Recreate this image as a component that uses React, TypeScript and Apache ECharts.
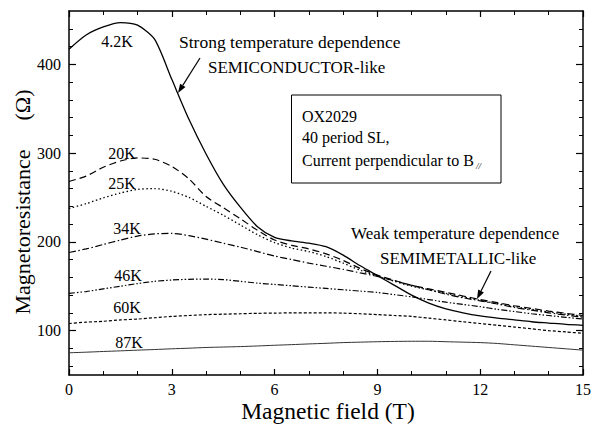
import React, { useEffect, useRef } from "react";
import * as echarts from "echarts";

const fieldT = [0, 0.5, 1, 1.5, 2, 2.5, 3, 3.5, 4, 4.5, 5, 5.5, 6, 6.5, 7, 7.5, 8, 8.5, 9, 9.5, 10, 10.5, 11, 11.5, 12, 12.5, 13, 13.5, 14, 14.5, 15];
const r4K = [417, 433, 442, 447, 444, 428, 383, 338, 299, 265, 239, 217, 205, 201, 198.5, 194.5, 185, 173, 162, 151, 140, 131, 124.5, 120, 116.5, 114, 112, 110, 108.5, 107, 106];
const r20K = [268, 274, 284, 291, 294.5, 293, 285, 271, 251, 238.5, 226, 213, 202, 196, 192, 186.5, 179, 170, 162.5, 156.5, 151, 147, 143, 139, 135, 131.5, 128, 125, 122, 119.5, 117];
const r25K = [237.6, 243, 249.5, 255, 259, 260, 257, 250, 240, 230, 219, 208, 199, 193, 189, 183.5, 176, 168, 161.5, 155.5, 150, 146, 142, 138, 134, 130.5, 127, 124, 121, 118.5, 116];
const r34K = [188, 192, 197, 202, 206.5, 209, 209.5, 207, 203, 198.5, 194, 189, 184, 180, 176, 172.5, 169, 165, 161, 156, 151, 146, 141, 137, 133.5, 130, 126, 123, 120, 117.5, 115];
const r46K = [142, 144, 147, 150, 153, 155.5, 157, 157.8, 158, 157.5, 155.5, 153.5, 152, 150.5, 149, 147.5, 146, 144.5, 143, 140.5, 138, 135, 132, 129.5, 127, 124, 121.5, 119, 117, 115, 113];
const r60K = [108, 109.5, 110.5, 112, 113, 114.5, 116, 117, 118, 118.5, 119, 119.5, 119.7, 120, 120, 120, 119.7, 119, 118, 117, 116, 114, 112, 110, 108, 106, 104, 102, 100, 98.5, 97];
const r87K = [75, 75.7, 76.5, 77.2, 78, 78.7, 79.5, 80.2, 81, 81.5, 82, 82.7, 83.5, 84.2, 85, 85.7, 86.5, 87, 87.5, 87.8, 88, 88, 87.5, 87, 86.5, 85.5, 84, 82.5, 81, 79.5, 78];

const seriesNames = ["4.2K", "20K", "25K", "34K", "46K", "60K", "87K"];
const seriesValues = [r4K, r20K, r25K, r34K, r46K, r60K, r87K];
const yLabelTicks = [100, 200, 300, 400];
const yMinorTicks = [60, 80, 120, 140, 160, 180, 220, 240, 260, 280, 320, 340, 360, 380, 420, 440];

const FONT = "Liberation Serif";

const dashStyles: any[] = [
  { type: "solid", width: 1.3, color: "#000" },
  { type: [7, 4], width: 1.2, color: "#000" },
  { type: [1.5, 2.5], width: 1.3, color: "#000" },
  { type: [7, 2.5, 1.5, 2.5], width: 1.2, color: "#000" },
  { type: [6, 2, 1.5, 2, 1.5, 2], width: 1.2, color: "#000" },
  { type: [3, 2], width: 1.2, color: "#000" },
  { type: "solid", width: 1.0, color: "#333" },
];

const labelPos: [number, number][] = [
  [117, 41], [122, 153], [122, 183], [127, 228], [128, 275], [127, 307], [129, 342],
];

function txt(x: number, y: number, text: string, size: number, align = "left", extra: any = {}) {
  const { italic, ...rest } = extra;
  return {
    type: "text",
    x,
    y,
    ...rest,
    style: { text, fontFamily: FONT, fontSize: size, fontStyle: italic ? "italic" : "normal", fill: "#000", align, verticalAlign: "middle" },
  };
}

function arrow(x1: number, y1: number, x2: number, y2: number): any[] {
  const ang = Math.atan2(y2 - y1, x2 - x1);
  const len = 9;
  const w = 3.2;
  const bx = x2 - len * Math.cos(ang);
  const by = y2 - len * Math.sin(ang);
  const px = -Math.sin(ang) * w;
  const py = Math.cos(ang) * w;
  return [
    { type: "line", shape: { x1, y1, x2: bx, y2: by }, style: { stroke: "#000", lineWidth: 1.2 } },
    {
      type: "polygon",
      shape: { points: [[x2, y2], [bx + px, by + py], [bx - px, by - py]] },
      style: { fill: "#000" },
    },
  ];
}

export default function App() {
  const ref = useRef<HTMLDivElement>(null);
  useEffect(() => {
    if (!ref.current) return;
    const chart = echarts.init(ref.current, null, { renderer: "svg" });
    const axisLine = { show: true, lineStyle: { color: "#000", width: 1.5 } };
    const yBase = { type: "value", min: 50, max: 460, splitLine: { show: false } };
    const graphic: any[] = [
      ...seriesNames.map((n, i) => txt(labelPos[i][0], labelPos[i][1], n, 16, "center")),
      txt(179, 42, "Strong temperature dependence", 17.5),
      txt(208, 67, "SEMICONDUCTOR-like", 17),
      ...arrow(200, 58, 178, 93),
      txt(351, 233, "Weak temperature dependence", 17),
      txt(380, 258, "SEMIMETALLIC-like", 17),
      ...arrow(491, 271, 477, 299),
      { type: "rect", shape: { x: 291.5, y: 95, width: 209.5, height: 88 }, style: { fill: "#fff", stroke: "#000", lineWidth: 1 }, z: 10 },
      txt(302, 116, "OX2029", 16, "left", { z: 11 }),
      txt(302, 137, "40 period SL,", 16, "left", { z: 11 }),
      txt(302, 160, "Current perpendicular to B", 16, "left", { z: 11 }),
      txt(476, 166, "//", 9, "left", { z: 11, italic: true }),
      txt(22, 232, "Magnetoresistance", 22, "center", { rotation: Math.PI / 2 }),
      txt(22, 105, "(Ω)", 22, "center", { rotation: Math.PI / 2 }),
      txt(328, 410.5, "Magnetic field (T)", 23.5, "center"),
    ];
    chart.setOption({
      animation: false,
      backgroundColor: "#fff",
      textStyle: { fontFamily: FONT },
      grid: { left: 69, right: 8, top: 11, bottom: 49, containLabel: false },
      xAxis: [
        {
          type: "value", min: 0, max: 15, interval: 3, position: "bottom",
          axisLine, splitLine: { show: false },
          axisTick: { inside: true, length: 6, lineStyle: { color: "#000", width: 1.2 } },
          minorTick: { show: true, splitNumber: 3, length: 4, lineStyle: { color: "#000", width: 1 } },
          axisLabel: { fontFamily: FONT, fontSize: 16, color: "#000", margin: 6 },
        },
        {
          type: "value", min: 0, max: 15, interval: 3, position: "top",
          axisLine, splitLine: { show: false },
          axisTick: { inside: true, length: 6, lineStyle: { color: "#000", width: 1.2 } },
          minorTick: { show: true, splitNumber: 3, length: 4, lineStyle: { color: "#000", width: 1 } },
          axisLabel: { show: false },
        },
      ],
      yAxis: [
        {
          ...yBase, position: "left", axisLine,
          axisTick: { inside: true, length: 7, customValues: yLabelTicks, lineStyle: { color: "#000", width: 1.2 } },
          axisLabel: { customValues: yLabelTicks, fontFamily: FONT, fontSize: 16, color: "#000", margin: 8 },
        },
        {
          ...yBase, position: "left", axisLine: { show: false },
          axisTick: { inside: true, length: 4, customValues: yMinorTicks, lineStyle: { color: "#000", width: 1 } },
          axisLabel: { show: false },
        },
        {
          ...yBase, position: "right", axisLine,
          axisTick: { inside: true, length: 7, customValues: yLabelTicks, lineStyle: { color: "#000", width: 1.2 } },
          axisLabel: { show: false },
        },
        {
          ...yBase, position: "right", axisLine: { show: false },
          axisTick: { inside: true, length: 4, customValues: yMinorTicks, lineStyle: { color: "#000", width: 1 } },
          axisLabel: { show: false },
        },
      ],
      series: seriesNames.map((n, i) => ({
        name: n,
        type: "line",
        xAxisIndex: 0,
        yAxisIndex: 0,
        smooth: 0.25,
        showSymbol: false,
        symbol: "none",
        data: fieldT.map((b, j) => [b, seriesValues[i][j]]),
        lineStyle: dashStyles[i],
      })),
      graphic,
    });
    return () => chart.dispose();
  }, []);
  return <div ref={ref} style={{ width: 594, height: 424, position: "absolute", left: 0, top: 0 }} />;
}
